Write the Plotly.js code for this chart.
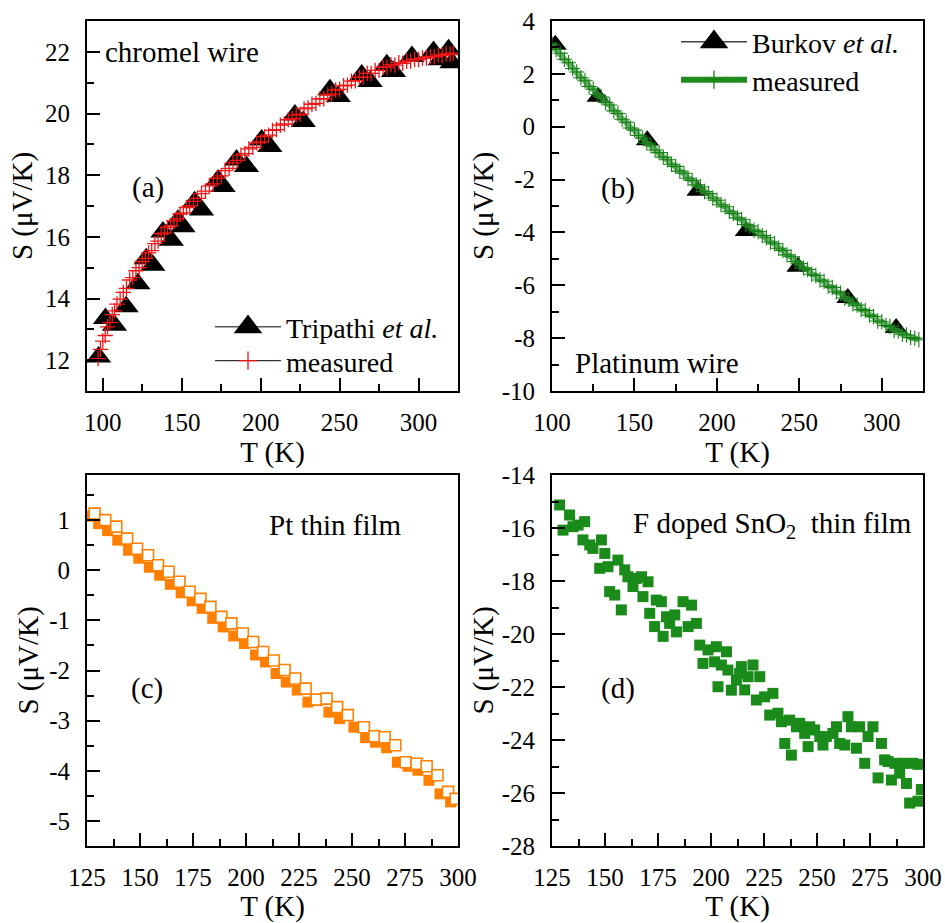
<!DOCTYPE html>
<html><head><meta charset="utf-8">
<script src="https://cdn.plot.ly/plotly-3.0.1.min.js"></script>
<style>html,body{margin:0;padding:0;background:#fff}</style>
</head><body><div id="chart" style="width:945px;height:923px"></div>
<script>
// ---------- Panel (a): chromel wire ----------
const tripathiT = [97.3,101.7,107.4,114.8,122.2,127.5,131.7,138.1,143.4,147.6,150.8,158.2,162.5,173.0,176.2,184.7,191.0,200.6,205.8,221.7,227.0,243.9,249.2,264.0,269.3,279.9,284.1,295.8,309.5,313.7,319.0,321.2];
const tripathiS = [12.1,13.35,13.13,13.73,14.48,15.29,15.08,16.16,15.89,16.54,16.33,17.14,16.87,17.84,17.63,18.49,18.28,19.14,18.93,19.95,19.74,20.77,20.55,21.25,21.04,21.58,21.36,21.85,22.01,21.74,22.07,21.65];
const chromelT = [97,98.5,100,101.5,103,104.5,106,107.5,109,111,
  113,115,117,119,121,123,125,127,129,131,
  133,135,137,139,141,143,145,147,149,151,
  153,155,157.5,160,162.5,165,167.5,170,172.5,175,
  177.5,180,182.5,185,187.5,190,192.5,195,197.5,200,
  202.5,205,207.5,210,212.5,215,217.5,220,222.5,225,
  227.5,230,232.5,235,237.5,240,242.5,245,247.5,250,
  252.5,255,257.5,260,262.5,265,267.5,270,272.5,275,
  277.5,280,282.5,285,287.5,290,292.5,295,297.5,300,
  302.5,305,307.5,310,312.5,315,317.5,320,322];
const chromelS = [12.05,12.35,12.62,12.8,13.08,13.22,13.48,13.6,13.82,13.98,
  14.2,14.33,14.6,14.68,14.9,15.0,15.2,15.3,15.48,15.55,
  15.78,15.86,16.1,16.12,16.3,16.36,16.52,16.58,16.74,16.78,
  16.95,17.0,17.15,17.25,17.4,17.48,17.65,17.72,17.9,17.98,
  18.15,18.22,18.4,18.48,18.65,18.7,18.85,18.9,19.05,19.08,
  19.25,19.3,19.45,19.48,19.62,19.66,19.8,19.83,19.95,19.98,
  20.15,20.18,20.3,20.33,20.47,20.48,20.6,20.63,20.76,20.78,
  20.9,20.92,21.05,21.06,21.17,21.18,21.3,21.3,21.4,21.4,
  21.5,21.5,21.58,21.57,21.65,21.63,21.7,21.7,21.76,21.75,
  21.8,21.8,21.85,21.84,21.9,21.88,21.93,21.92,21.96];

// ---------- Panel (b): platinum wire ----------
const burkovT = [102,127.9,157.8,188.5,217.8,249.1,279.4,308.7];
const burkovS = [3.1,1.13,-0.51,-2.42,-3.95,-5.3,-6.48,-7.62];
const platT = [100,102.5,105,107.5,110,112.5,115,117.5,120,122.5,
  125,127.5,130,132.5,135,137.5,140,142.5,145,147.5,
  150,152.5,155,157.5,160,162.5,165,167.5,170,172.5,
  175,177.5,180,182.5,185,187.5,190,192.5,195,197.5,
  200,202.5,205,207.5,210,212.5,215,217.5,220,222.5,
  225,227.5,230,232.5,235,237.5,240,242.5,245,247.5,
  250,252.5,255,257.5,260,262.5,265,267.5,270,272.5,
  275,277.5,280,282.5,285,287.5,290,292.5,295,297.5,
  300,302.5,305,307.5,310,312.5,315,317.5,320,322.5];
const platS = [3.12,2.92,2.78,2.55,2.42,2.2,2.07,1.85,1.74,1.52,
  1.42,1.22,1.12,0.92,0.82,0.6,0.5,0.28,0.17,-0.05,
  -0.13,-0.33,-0.43,-0.62,-0.72,-0.88,-0.98,-1.15,-1.25,-1.42,
  -1.5,-1.68,-1.76,-1.95,-2.03,-2.2,-2.28,-2.45,-2.53,-2.7,
  -2.78,-2.95,-3.03,-3.2,-3.28,-3.45,-3.52,-3.7,-3.76,-3.92,
  -3.97,-4.12,-4.2,-4.36,-4.43,-4.6,-4.68,-4.85,-4.92,-5.1,
  -5.18,-5.35,-5.4,-5.58,-5.63,-5.8,-5.85,-6.03,-6.08,-6.25,
  -6.3,-6.48,-6.53,-6.7,-6.75,-6.92,-6.96,-7.13,-7.18,-7.35,
  -7.38,-7.52,-7.56,-7.7,-7.73,-7.85,-7.88,-7.98,-8.0,-8.06];

// ---------- Panel (c): Pt thin film ----------
const ptFilledT = [126.9,130.5,134.7,139.5,144.6,149.4,154.4,159.3,164.3,169.4,174.6,179.3,184.3,189.2,194.2,199.3,204.5,209.2,214.2,219.0,224.2,229.2,239.1,244.1,250.9,256.4,261.1,266.3,271.4,276.4,281.1,286.3,291.5,296.5];
const ptFilledS = [1.08,0.93,0.79,0.60,0.40,0.24,0.06,-0.10,-0.28,-0.45,-0.61,-0.76,-0.96,-1.13,-1.31,-1.46,-1.69,-1.83,-2.06,-2.23,-2.39,-2.63,-2.83,-2.96,-3.13,-3.34,-3.43,-3.54,-3.83,-3.91,-3.99,-4.19,-4.46,-4.62];
const ptOpenT = [128.6,133.6,138.8,143.9,148.6,153.8,158.5,163.5,168.6,173.4,178.5,183.2,188.4,193.1,198.5,203.4,208.1,213.1,218.2,223.2,228.1,233.3,238.0,243.0,248.0,255.6,260.6,265.4,270.4,275.3,280.5,285.2,290.3,295.3,298.9];
const ptOpenS = [1.13,1.0,0.87,0.63,0.43,0.30,0.10,-0.03,-0.23,-0.43,-0.57,-0.73,-0.93,-1.06,-1.26,-1.43,-1.63,-1.80,-1.99,-2.16,-2.36,-2.58,-2.56,-2.73,-2.89,-3.13,-3.31,-3.33,-3.49,-3.83,-3.86,-3.91,-4.09,-4.42,-4.56];

// ---------- Panel (d): F doped SnO2 thin film ----------
const snoT = [128.6,130.2,133.3,134.9,137.3,140.4,139.6,142.8,144.3,148.3,
  147.5,149.9,151.4,152.2,154.6,156.1,157.7,159.3,160.8,163.2,
  164.8,167.2,167.9,170.3,171.1,173.4,174.2,176.6,177.4,179.0,
  180.5,182.9,183.7,186.8,189.2,190.8,193.1,194.7,196.2,198.6,
  201.7,202.5,203.3,204.9,207.3,208.0,209.6,212.0,213.5,214.3,
  215.9,217.5,219.8,221.4,223.0,225.3,227.7,229.2,231.6,233.2,
  234.8,237.1,237.9,240.3,241.8,244.2,245.8,246.6,248.9,251.3,
  252.8,254.4,257.5,259.2,260.7,263.1,264.6,266.2,268.6,270.1,
  272.5,274.1,276.4,278.8,280.4,281.9,283.5,285.1,286.7,289.0,
  290.6,292.2,293.7,295.3,297.6,299.2,297.6];
const snoS = [-15.13,-16.08,-15.51,-15.95,-15.89,-15.76,-16.45,-16.64,-16.77,-16.45,
  -17.52,-16.96,-17.46,-18.40,-18.53,-17.21,-19.09,-17.58,-17.84,-18.21,
  -17.90,-17.84,-18.59,-18.03,-19.22,-19.72,-18.72,-18.78,-20.09,-19.35,
  -19.60,-19.28,-19.92,-18.78,-19.72,-18.91,-19.60,-20.42,-21.11,-20.60,
  -21.05,-20.48,-21.99,-21.17,-20.67,-21.36,-22.12,-21.74,-21.49,-21.23,
  -22.11,-21.61,-21.17,-22.49,-21.61,-22.37,-23.06,-22.24,-22.99,-23.31,
  -24.13,-23.25,-24.57,-23.50,-23.37,-23.75,-24.25,-23.50,-23.62,-23.87,
  -24.19,-23.87,-23.75,-23.50,-24.13,-24.19,-23.12,-23.50,-24.31,-23.50,
  -24.88,-23.87,-23.50,-25.43,-24.13,-24.75,-24.81,-25.51,-24.88,-25.25,
  -24.88,-25.64,-26.38,-24.88,-26.31,-25.87,-24.92];

// ---------- Tick values ----------
const ticksA_x = [100,150,200,250,300];
const ticksA_y = [12,14,16,18,20,22];
const ticksB_x = [100,150,200,250,300];
const ticksB_y = [-10,-8,-6,-4,-2,0,2,4];
const ticksC_x = [125,150,175,200,225,250,275,300];
const ticksC_y = [-5,-4,-3,-2,-1,0,1];
const ticksD_x = [125,150,175,200,225,250,275,300];
const ticksD_y = [-28,-26,-24,-22,-20,-18,-16,-14];

const FONT = '"Liberation Serif", "Times New Roman", Times, serif';
const RED = 'rgb(238,22,22)';
const GREEN = 'rgb(20,128,20)';
const ORANGE = '#ff8000';
const DGREEN = '#1a8a1a';

function xax(domain, range, tv, minorD, anchor) {
  return {
    domain, range, anchor, tickmode: 'array', tickvals: tv, ticktext: tv.map(String),
    ticks: 'inside', ticklen: 13, tickwidth: 2, tickcolor: '#000',
    minor: {dtick: minorD, tick0: tv[0], ticks: 'inside', ticklen: 7, tickwidth: 2, tickcolor: '#000'},
    showline: true, linewidth: 2, linecolor: '#000', mirror: true,
    showgrid: false, zeroline: false, ticklabelstandoff: 8,
    tickfont: {family: FONT, size: 25, color: '#000'},
    title: {text: 'T (K)', font: {family: FONT, size: 29, color: '#000'}, standoff: 5}
  };
}
function yax(domain, range, tv, minorD, anchor, standoff) {
  return {
    domain, range, anchor, tickmode: 'array', tickvals: tv, ticktext: tv.map(String),
    ticks: 'inside', ticklen: 13, tickwidth: 2, tickcolor: '#000',
    minor: {dtick: minorD, tick0: tv[0], ticks: 'inside', ticklen: 7, tickwidth: 2, tickcolor: '#000'},
    showline: true, linewidth: 2, linecolor: '#000', mirror: true,
    showgrid: false, zeroline: false, ticklabelstandoff: 10,
    tickfont: {family: FONT, size: 25, color: '#000'},
    title: {text: 'S (\u03bcV/K)', font: {family: FONT, size: 29, color: '#000'}, standoff: standoff}
  };
}

const colL = [87/945, 458/945], colR = [552/945, 923/945];
const rowT = [1-391/923, 1-21/923], rowB = [1-846/923, 1-475/923];

const traces = [
  // (a)
  {x: tripathiT, y: tripathiS, xaxis: 'x', yaxis: 'y', mode: 'markers', showlegend: false,
   marker: {symbol: 'triangle-up', size: 22, color: '#000'}},
  {x: chromelT, y: chromelS, xaxis: 'x', yaxis: 'y', mode: 'markers', showlegend: false,
   marker: {symbol: 'cross-thin-open', size: 11, color: RED, line: {color: RED, width: 1.3}}},
  {x: [null], y: [null], xaxis: 'x', yaxis: 'y', mode: 'lines+markers', legend: 'legend',
   name: 'Tripathi <i>et al.</i>', line: {color: '#555', width: 1.5},
   marker: {symbol: 'triangle-up', size: 16, color: '#000', line: {color: '#000', width: 5}}},
  {x: [null], y: [null], xaxis: 'x', yaxis: 'y', mode: 'lines+markers', legend: 'legend2',
   name: 'measured', line: {color: '#333', width: 1.2},
   marker: {symbol: 'cross-thin-open', size: 13, color: RED, line: {color: RED, width: 1.3}}},
  // (b)
  {x: burkovT, y: burkovS, xaxis: 'x2', yaxis: 'y2', mode: 'markers', showlegend: false,
   marker: {symbol: 'triangle-up', size: 20, color: '#000'}},
  {x: platT, y: platS, xaxis: 'x2', yaxis: 'y2', mode: 'lines', showlegend: false,
   line: {color: 'rgba(60,155,60,0.8)', width: 6}},
  {x: platT, y: platS, xaxis: 'x2', yaxis: 'y2', mode: 'markers', showlegend: false,
   marker: {symbol: 'cross-thin-open', size: 11, color: GREEN, line: {color: GREEN, width: 1.1}}},
  {x: [null], y: [null], xaxis: 'x2', yaxis: 'y2', mode: 'lines+markers', legend: 'legend3',
   name: 'Burkov <i>et al.</i>', line: {color: '#444', width: 1.5},
   marker: {symbol: 'triangle-up', size: 16, color: '#000', line: {color: '#000', width: 5}}},
  {x: [null], y: [null], xaxis: 'x2', yaxis: 'y2', mode: 'lines+markers', legend: 'legend4',
   name: 'measured', line: {color: '#1e8c1e', width: 6},
   marker: {symbol: 'cross-thin-open', size: 13, color: GREEN, line: {color: GREEN, width: 1.3}}},
  // (c)
  {x: ptFilledT, y: ptFilledS, xaxis: 'x3', yaxis: 'y3', mode: 'markers', showlegend: false,
   marker: {symbol: 'square', size: 11, color: ORANGE}},
  {x: ptOpenT, y: ptOpenS, xaxis: 'x3', yaxis: 'y3', mode: 'markers', showlegend: false,
   marker: {symbol: 'square', size: 11, color: '#fff', line: {color: ORANGE, width: 1.6}}},
  // (d)
  {x: snoT, y: snoS, xaxis: 'x4', yaxis: 'y4', mode: 'markers', showlegend: false,
   marker: {symbol: 'square', size: 11, color: DGREEN}}
];

const annFont = {family: FONT, size: 29, color: '#000'};
function leg(xpx, ytop) {
  return {x: xpx/945, y: 1 - ytop/923, xanchor: 'left', yanchor: 'top', bgcolor: 'rgba(0,0,0,0)',
          font: {family: FONT, size: 28, color: '#000'}, itemwidth: 66};
}
const layout = {
  width: 945, height: 923, margin: {l: 0, r: 0, t: 0, b: 0},
  paper_bgcolor: '#fff', plot_bgcolor: '#fff',
  font: {family: FONT, color: '#000'},
  xaxis: xax(colL, [90, 325], ticksA_x, 25, 'y'),
  yaxis: yax(rowT, [11, 23], ticksA_y, 1, 'x', 4),
  xaxis2: xax(colR, [100, 325], ticksB_x, 25, 'y2'),
  yaxis2: yax(rowT, [-10, 4], ticksB_y, 1, 'x2', 0),
  xaxis3: xax(colL, [125, 300], ticksC_x, 12.5, 'y3'),
  yaxis3: yax(rowB, [-5.5, 1.9], ticksC_y, 0.5, 'x3', 2),
  xaxis4: xax(colR, [125, 300], ticksD_x, 12.5, 'y4'),
  yaxis4: yax(rowB, [-28, -14], ticksD_y, 1, 'x4', 0),
  legend: leg(210, 302),
  legend2: leg(210, 336),
  legend3: leg(676, 17),
  legend4: leg(676, 55),
  annotations: [
    {xref: 'x', yref: 'y', x: 100.4, y: 22.0, xanchor: 'left', yanchor: 'middle', text: 'chromel wire', showarrow: false, font: annFont},
    {xref: 'x', yref: 'y', x: 128.4, y: 17.6, xanchor: 'center', yanchor: 'middle', text: '(a)', showarrow: false, font: annFont},
    {xref: 'x2', yref: 'y2', x: 139.8, y: -2.34, xanchor: 'center', yanchor: 'middle', text: '(b)', showarrow: false, font: annFont},
    {xref: 'x2', yref: 'y2', x: 112.5, y: -8.94, xanchor: 'left', yanchor: 'middle', text: 'Platinum wire', showarrow: false, font: annFont},
    {xref: 'x3', yref: 'y3', x: 242.2, y: 0.9, xanchor: 'center', yanchor: 'middle', text: 'Pt thin film', showarrow: false, font: annFont},
    {xref: 'x3', yref: 'y3', x: 153.5, y: -2.35, xanchor: 'center', yanchor: 'middle', text: '(c)', showarrow: false, font: annFont},
    {xref: 'x4', yref: 'y4', x: 295.6, y: -15.89, xanchor: 'right', yanchor: 'middle', text: 'F doped SnO<sub>2</sub>  thin film', showarrow: false, font: annFont},
    {xref: 'x4', yref: 'y4', x: 156, y: -22.04, xanchor: 'center', yanchor: 'middle', text: '(d)', showarrow: false, font: annFont}
  ]
};

Plotly.newPlot('chart', traces, layout, {displayModeBar: false, staticPlot: true});
</script></body></html>
